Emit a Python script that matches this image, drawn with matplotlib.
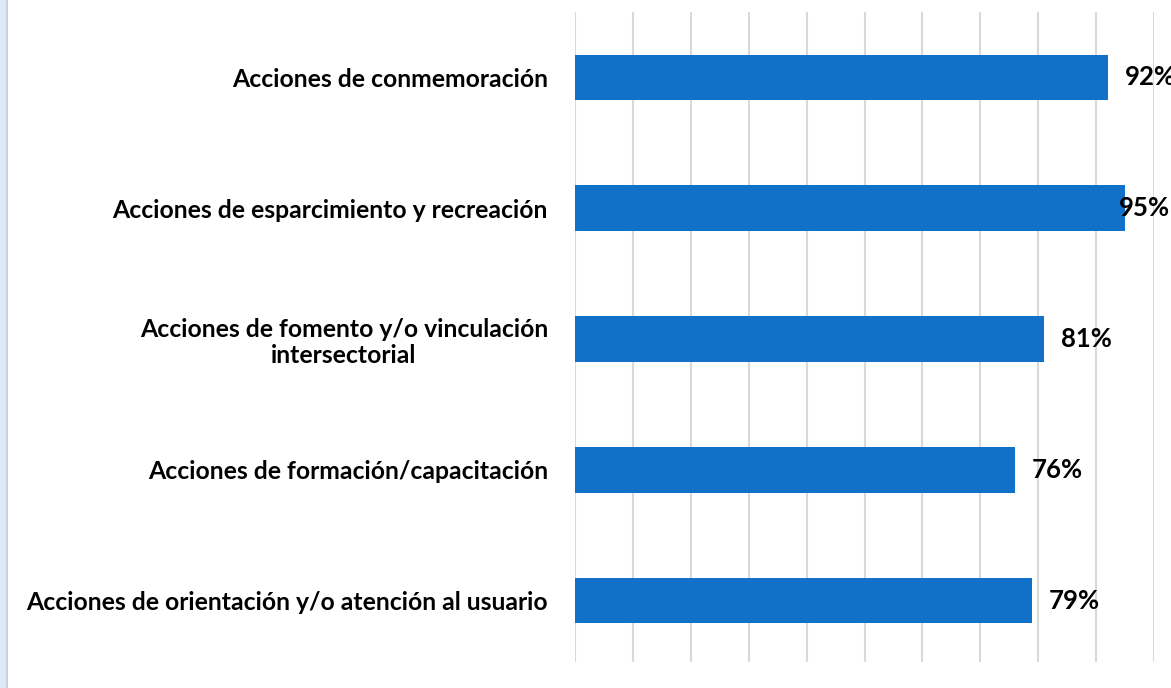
import matplotlib.pyplot as plt
from matplotlib.patches import Rectangle
import numpy as np

categories = [
    'Acciones de conmemoración',
    'Acciones de esparcimiento y recreación',
    'Acciones de fomento y/o vinculación\nintersectorial',
    'Acciones de formación/capacitación',
    'Acciones de orientación y/o atención al usuario',
]
values = [92, 95, 81, 76, 79]
value_labels = ['92%', '95%', '81%', '76%', '79%']

plt.rcParams['font.family'] = ['Lato', 'DejaVu Sans']

fig = plt.figure(figsize=(11.71, 6.88), dpi=100)
ax = fig.add_axes([575 / 1171, 1 - 662 / 688, (1154 - 575) / 1171, 650 / 688])

# light blue strip on the left edge of the original slide
fig.patches.append(Rectangle((0, 0), 6 / 1171, 1, transform=fig.transFigure,
                             facecolor='#dcebf7', edgecolor='none'))
fig.patches.append(Rectangle((6 / 1171, 0), 1.5 / 1171, 1, transform=fig.transFigure,
                             facecolor='#c8d3dc', edgecolor='none'))

n = len(categories)
ypos = np.arange(n)[::-1]

ax.barh(ypos, values, height=0.35, color='#1170c7', zorder=3)

ax.set_xlim(0, 100)
ax.set_ylim(-0.47, n - 0.5)
ax.set_xticks(np.arange(0, 101, 10))
ax.xaxis.grid(True, color='#d9d9d9', linewidth=1.5, zorder=0)
ax.tick_params(axis='x', length=0, labelbottom=False)
ax.tick_params(axis='y', length=0, pad=19.5)
ax.set_yticks(ypos)
ax.set_yticklabels(categories, fontsize=17.8, fontweight='bold',
                   multialignment='center', linespacing=1.15)
for s in ax.spines.values():
    s.set_visible(False)

# value labels; the largest one is pulled back so it stays inside the figure
for y, v, lab in zip(ypos, values, value_labels):
    x = v + 2.9 if v + 2.9 < 96 else 94.0
    ax.text(x, y, lab, va='center', ha='left', fontsize=18.5, fontweight='bold',
            clip_on=False, zorder=4)

fig.savefig('out.png', dpi=100)
